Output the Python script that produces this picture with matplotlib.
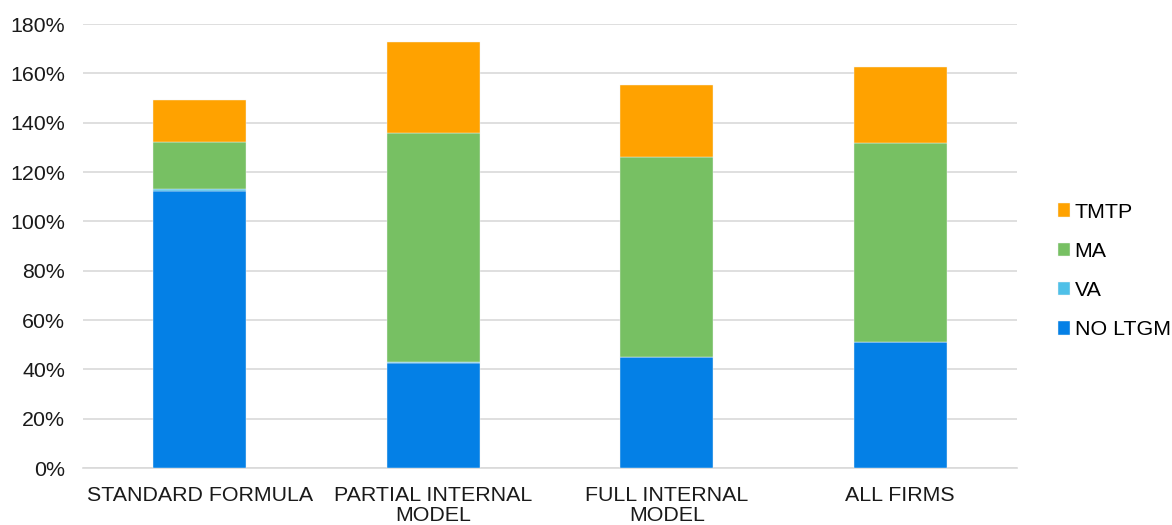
import matplotlib
matplotlib.use("Agg")
import matplotlib.pyplot as plt
import numpy as np

categories = ["STANDARD FORMULA", "PARTIAL INTERNAL\nMODEL", "FULL INTERNAL\nMODEL", "ALL FIRMS"]
no_ltgm = [112.3, 42.7, 45.0, 50.9]
va = [0.8, 0.3, 0.1, 0.3]
ma = [18.9, 92.7, 80.9, 80.4]
tmtp = [17.2, 37.1, 29.1, 30.8]
yticks = [0, 20, 40, 60, 80, 100, 120, 140, 160, 180]

series = [("NO LTGM", no_ltgm, "#0480E6"),
          ("VA", va, "#4FC0E8"),
          ("MA", ma, "#77C063"),
          ("TMTP", tmtp, "#FFA200")]

plt.rcParams['font.family'] = ['Liberation Sans', 'DejaVu Sans']
FS = 15.4

fig = plt.figure(figsize=(11.72, 5.25), dpi=100)
ax = fig.add_axes([83 / 1172, 1 - 468 / 525, (1017 - 83) / 1172, (468 - 24) / 525])

x = np.arange(len(categories))
bottom = np.zeros(len(categories))
handles = []
for name, vals, color in series:
    vals = np.array(vals)
    b = ax.bar(x, vals, width=0.40, bottom=bottom, color=color, label=name,
               edgecolor="#F4F4F4", linewidth=0.3, zorder=3)
    handles.append(b)
    bottom += vals

ax.set_xlim(-0.5, len(categories) - 0.5)
ax.set_ylim(0, 180)
ax.set_yticks(yticks)
ax.set_yticklabels([f"{t}%" for t in yticks], fontsize=FS, color="#1a1a1a")
ax.set_xticks(x)
ax.set_xticklabels(categories, fontsize=FS, color="#1a1a1a", linespacing=1.05)
ax.tick_params(axis="both", length=0)
ax.tick_params(axis="x", pad=13)
ax.tick_params(axis="y", pad=13)

ax.grid(axis="y", color="#D9D9D9", linewidth=1.2, zorder=0)
for s in ["top", "right", "left"]:
    ax.spines[s].set_visible(False)
ax.spines["bottom"].set_color("#D9D9D9")
ax.spines["bottom"].set_linewidth(1.2)

leg = fig.legend(handles[::-1], [h.get_label() for h in handles[::-1]],
                 loc="center left", bbox_to_anchor=(1049 / 1172, 1 - 271 / 525),
                 frameon=False, fontsize=FS, handlelength=0.6, handleheight=0.6,
                 handletextpad=0.2, labelspacing=0.95, borderaxespad=0)

fig.savefig("out.png", dpi=100)
